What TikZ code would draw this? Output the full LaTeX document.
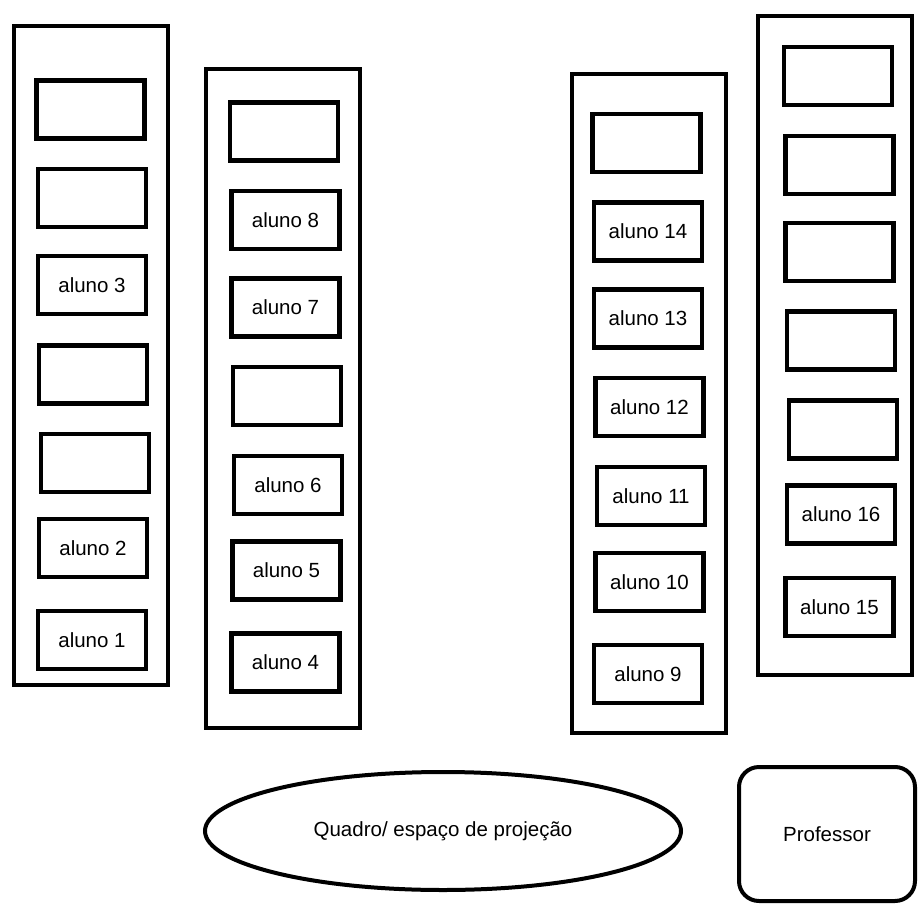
\documentclass[tikz,border=0pt]{standalone}
\usepackage{fontspec}
\setmainfont{Liberation Sans}
\usetikzlibrary{shapes,positioning}

\begin{document}
\begin{tikzpicture}[
  x=1pt, y=-1pt,
  fila/.style={rectangle, draw=black, line width=4pt, minimum width=154pt,
    minimum height=659pt, inner sep=0pt},
  carteira/.style={rectangle, draw=black, line width=4.5pt, minimum width=108pt,
    minimum height=58pt, inner sep=0pt, font=\fontsize{20.5}{24}\selectfont},
  every node/.style={align=center}
]
\useasboundingbox (0,0) rectangle (919,905);

% filas
\node[fila] (fila1) at (91,355.5) {};
\node[fila] (fila2) at (283,398.5) {};
\node[fila] (fila3) at (648.5,403.5) {};
\node[fila] (fila4) at (834.5,345) {};

% fila 1
\node[carteira] (vaga1a) at (90.5,109.5) {};
\node[carteira] (vaga1b) at (92,198) {};
\node[carteira] (aluno3) at (92,285) {aluno 3};
\node[carteira] (vaga1c) at (93,374.5) {};
\node[carteira] (vaga1d) at (95,463) {};
\node[carteira] (aluno2) at (93,548) {aluno 2};
\node[carteira] (aluno1) at (92,640) {aluno 1};

% fila 2
\node[carteira] (vaga2a) at (284,131.5) {};
\node[carteira] (aluno8) at (285.5,220) {aluno 8};
\node[carteira] (aluno7) at (285.5,307.5) {aluno 7};
\node[carteira] (vaga2b) at (287,396) {};
\node[carteira] (aluno6) at (288,485) {aluno 6};
\node[carteira] (aluno5) at (286.5,570.5) {aluno 5};
\node[carteira] (aluno4) at (285.5,662.5) {aluno 4};

% fila 3
\node[carteira] (vaga3a) at (646.5,143) {};
\node[carteira] (aluno14) at (648,231.5) {aluno 14};
\node[carteira] (aluno13) at (648,318.5) {aluno 13};
\node[carteira] (aluno12) at (649.5,407) {aluno 12};
\node[carteira] (aluno11) at (651,496) {aluno 11};
\node[carteira] (aluno10) at (649.5,582) {aluno 10};
\node[carteira] (aluno9) at (648,674) {aluno 9};

% fila 4
\node[carteira] (vaga4a) at (838,76) {};
\node[carteira] (vaga4b) at (839.5,165) {};
\node[carteira] (vaga4c) at (839.5,252) {};
\node[carteira] (vaga4d) at (841,340.5) {};
\node[carteira] (vaga4e) at (843,429.5) {};
\node[carteira] (aluno16) at (841,514.5) {aluno 16};
\node[carteira] (aluno15) at (839.5,607) {aluno 15};

% frente da sala
\node[ellipse, draw=black, line width=4pt, minimum width=476pt, minimum height=118pt,
  inner sep=0pt, font=\fontsize{20.5}{24}\selectfont] (quadro) at (443,831)
  {Quadro/ espaço de projeção};
\node[rectangle, rounded corners=20pt, draw=black, line width=4pt, minimum width=176pt,
  minimum height=134pt, inner sep=0pt, font=\fontsize{20.5}{24}\selectfont] (professor)
  at (827,834) {Professor};

\end{tikzpicture}
\end{document}
